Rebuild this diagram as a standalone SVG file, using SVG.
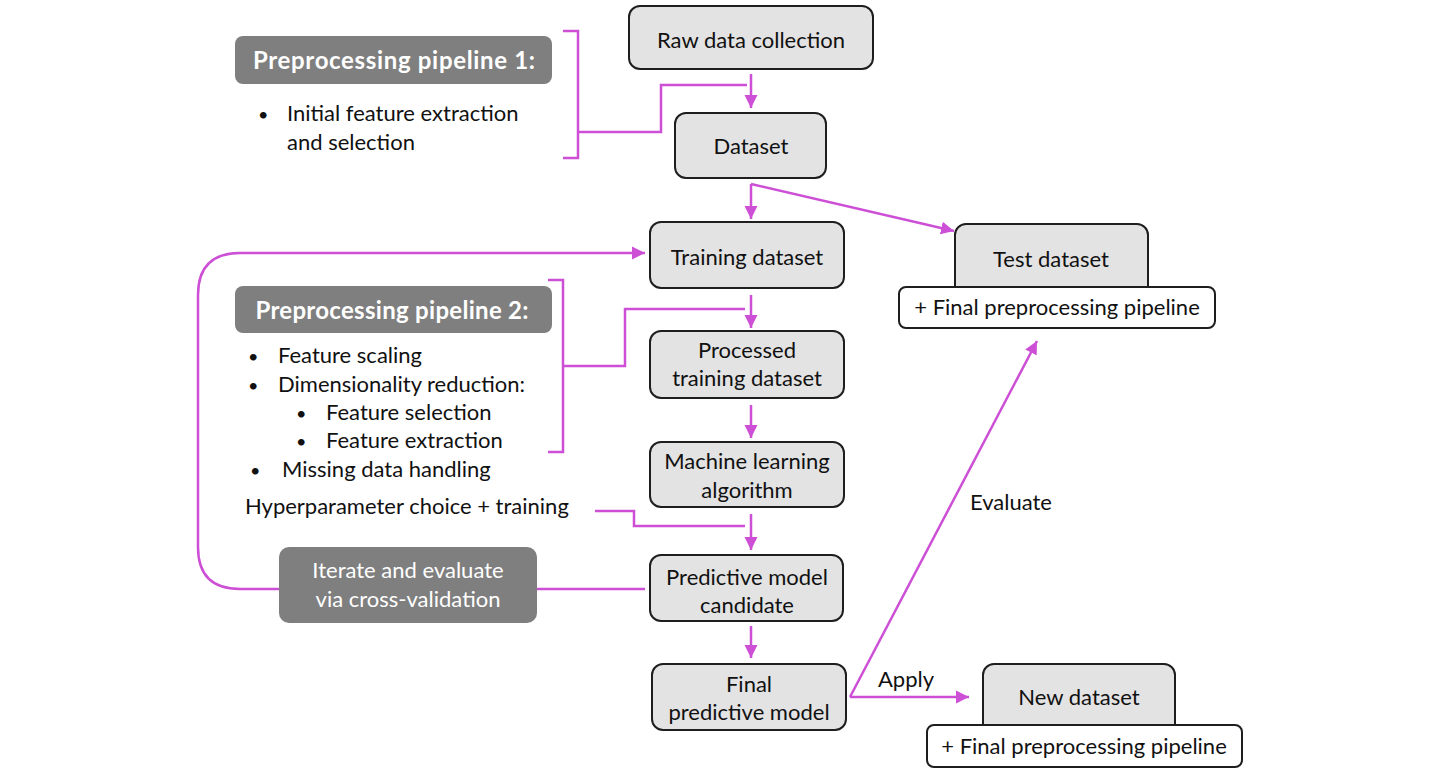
<svg xmlns="http://www.w3.org/2000/svg" width="1446" height="782" viewBox="0 0 1446 782">
<style>
text{font-family:Lato,"Liberation Sans",sans-serif;font-size:22px;fill:#111}
.box{fill:#e3e3e3;stroke:#1e1e1e;stroke-width:2}
.wbox{fill:#ffffff;stroke:#1e1e1e;stroke-width:2}
.lbl{fill:#7f7f7f;stroke:none}
.wt{fill:#ffffff}
.b{font-weight:bold;font-size:24px}
.c{text-anchor:middle}
.dot{font-size:18px}
.con{fill:none;stroke:#cc4fd6;stroke-width:2.5}
</style>
<defs>
<marker id="ah" markerUnits="userSpaceOnUse" markerWidth="14" markerHeight="14" refX="13" refY="7" orient="auto">
<path d="M0,0.5 L13,7 L0,13.5 z" fill="#cc4fd6"/>
</marker>
</defs>
<rect width="1446" height="782" fill="#ffffff"/>
<g id="connectors">
<path class="con" d="M751,74 V108" marker-end="url(#ah)"/>
<path class="con" d="M563,31 H578 V158 H563"/>
<path class="con" d="M578,132 H661 V85 H747"/>
<path class="con" d="M751,184 V219" marker-end="url(#ah)"/>
<path class="con" d="M751,184 L954,231" marker-end="url(#ah)"/>
<path class="con" d="M751,295 V328" marker-end="url(#ah)"/>
<path class="con" d="M548,280 H563 V452 H548"/>
<path class="con" d="M563,366 H625 V309 H745"/>
<path class="con" d="M751,405 V438" marker-end="url(#ah)"/>
<path class="con" d="M595,511 H634 V526 H745"/>
<path class="con" d="M751,514 V550" marker-end="url(#ah)"/>
<path class="con" d="M751,626 V658" marker-end="url(#ah)"/>
<path class="con" d="M645,589 H537"/>
<path class="con" d="M279,589 H240 Q198,589 198,547 V295 Q198,253 240,253 H645" marker-end="url(#ah)"/>
<path class="con" d="M850,697 H969" marker-end="url(#ah)"/>
<path class="con" d="M850,697 L1037,341" marker-end="url(#ah)"/>
</g>
<g id="pipeline1">
<rect class="lbl" x="235" y="36" width="317" height="48" rx="8"/>
<text class="wt b c" x="394" y="69" textLength="282" lengthAdjust="spacing">Preprocessing  pipeline 1:</text>
<text class="dot" x="258" y="121">•</text>
<text x="287" y="121">Initial feature extraction</text>
<text x="287" y="150">and selection</text>
</g>
<g id="raw">
<rect class="box" x="629" y="6" width="244" height="63" rx="11"/>
<text class="c" x="751" y="48">Raw data collection</text>
</g>
<g id="dataset">
<rect class="box" x="675" y="113" width="151" height="65" rx="11"/>
<text class="c" x="751" y="154">Dataset</text>
</g>
<g id="training">
<rect class="box" x="650" y="222" width="194" height="66" rx="11"/>
<text class="c" x="747" y="265">Training dataset</text>
</g>
<g id="test">
<rect class="box" x="955" y="224" width="193" height="75" rx="11"/>
<rect class="wbox" x="899" y="287" width="316" height="41" rx="7"/>
<text class="c" x="1051" y="267">Test dataset</text>
<text class="c" x="1057" y="315">+ Final preprocessing pipeline</text>
</g>
<g id="pipeline2">
<rect class="lbl" x="235" y="286" width="317" height="47" rx="8"/>
<text class="wt b c" x="392" y="319" textLength="273" lengthAdjust="spacing">Preprocessing pipeline 2:</text>
<text class="dot" x="248" y="363">•</text>
<text x="278" y="363">Feature scaling</text>
<text class="dot" x="248" y="392">•</text>
<text x="278" y="392">Dimensionality reduction:</text>
<text class="dot" x="296" y="420">•</text>
<text x="326" y="420">Feature selection</text>
<text class="dot" x="296" y="448">•</text>
<text x="326" y="448">Feature extraction</text>
<text class="dot" x="250" y="477">•</text>
<text x="282" y="477">Missing data handling</text>
</g>
<g id="processed">
<rect class="box" x="650" y="331" width="194" height="67" rx="11"/>
<text class="c" x="747" y="358">Processed</text>
<text class="c" x="747" y="386">training dataset</text>
</g>
<g id="ml">
<rect class="box" x="650" y="442" width="194" height="65" rx="11"/>
<text class="c" x="747" y="469">Machine learning</text>
<text class="c" x="747" y="498">algorithm</text>
</g>
<g id="hyper">
<text x="245" y="514">Hyperparameter choice + training</text>
</g>
<g id="predictive">
<rect class="box" x="650" y="555" width="193" height="66" rx="11"/>
<text class="c" x="747" y="585">Predictive model</text>
<text class="c" x="747" y="613">candidate</text>
</g>
<g id="iterate">
<rect class="lbl" x="279" y="547" width="258" height="76" rx="10"/>
<text class="wt c" x="408" y="578">Iterate and evaluate</text>
<text class="wt c" x="408" y="607">via cross-validation</text>
</g>
<g id="final">
<rect class="box" x="652" y="664" width="194" height="66" rx="11"/>
<text class="c" x="749" y="692">Final</text>
<text class="c" x="749" y="720">predictive model</text>
</g>
<g id="newdata">
<rect class="box" x="983" y="664" width="192" height="72" rx="11"/>
<rect class="wbox" x="927" y="725" width="315" height="42" rx="7"/>
<text class="c" x="1079" y="705">New dataset</text>
<text class="c" x="1084" y="754">+ Final preprocessing pipeline</text>
</g>
<g id="labels">
<text x="970" y="510">Evaluate</text>
<text x="878" y="687">Apply</text>
</g>
</svg>
